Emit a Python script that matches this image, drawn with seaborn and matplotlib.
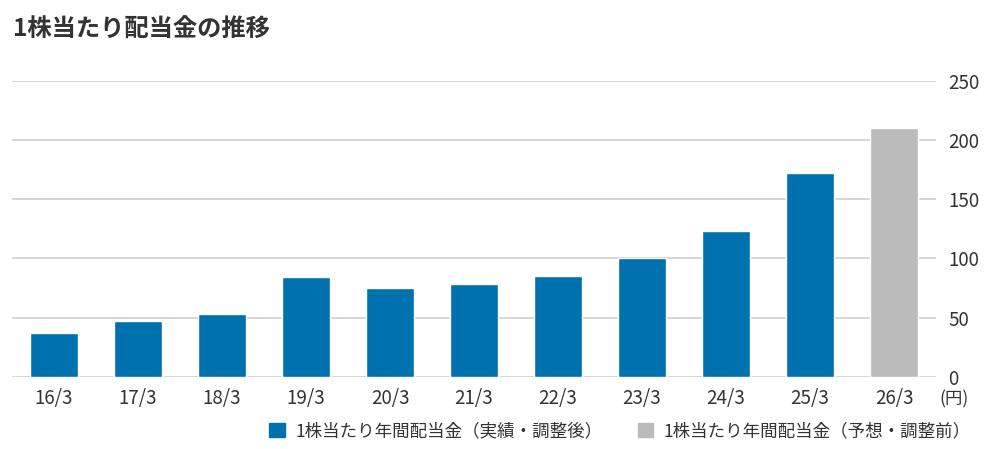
import matplotlib
matplotlib.use('Agg')
import matplotlib.pyplot as plt
import seaborn as sns
import pandas as pd

# dividend per share (yen)
years = ['16/3', '17/3', '18/3', '19/3', '20/3', '21/3', '22/3', '23/3', '24/3', '25/3', '26/3']
dividends = [37, 47, 53.5, 84, 75.5, 78.5, 85.5, 100.5, 123.5, 172.5, 210]
kind_actual = '1株当たり年間配当金（実績・調整後）'
kind_forecast = '1株当たり年間配当金（予想・調整前）'
kinds = [kind_actual] * 10 + [kind_forecast]
yticks = [0, 50, 100, 150, 200, 250]

df = pd.DataFrame({'year': years, 'dividend': dividends, 'kind': kinds})

sns.set_style('white')
plt.rcParams['font.family'] = ['Noto Sans CJK JP', 'DejaVu Sans']
text_color = '#333333'

fig = plt.figure(figsize=(9.95, 4.49), dpi=100)
ax = fig.add_axes([12 / 995, 1 - 377 / 449, (936 - 12) / 995, (377 - 80.7) / 449])

palette = {kind_actual: '#0071AF', kind_forecast: '#BBBBBB'}
sns.barplot(data=df, x='year', y='dividend', hue='kind', palette=palette,
            dodge=False, width=0.57, saturation=1, legend=False, ax=ax, zorder=3)

ax.set_xlim(-0.5, 10.5)
ax.set_ylim(0, 250)
ax.set_yticks(yticks)
ax.yaxis.tick_right()
ax.grid(axis='y', color='#D0D0D0', linewidth=1.2, zorder=0)
ax.set_axisbelow(True)
for s in ax.spines.values():
    s.set_visible(False)
ax.tick_params(axis='both', length=0, labelsize=13.5, colors=text_color)
ax.tick_params(axis='y', pad=9)
ax.tick_params(axis='x', pad=8)
ax.set_xlabel('')
ax.set_ylabel('')

fig.text(939 / 995, 1 - 399.5 / 449, '(円)', fontsize=12.5, color=text_color,
         ha='left', va='center')

fig.text(13 / 995, 1 - 30 / 449, '1株当たり配当金の推移', fontsize=17.5,
         fontweight='bold', color=text_color, ha='left', va='center')

handles = [plt.Rectangle((0, 0), 1, 1, color=palette[kind_actual]),
           plt.Rectangle((0, 0), 1, 1, color=palette[kind_forecast])]
fig.legend(handles, [kind_actual, kind_forecast], ncol=2, frameon=False,
           loc='center right', bbox_to_anchor=(978 / 995, 1 - 431 / 449),
           fontsize=12.6, labelcolor=text_color, handlelength=0.9, handleheight=0.9,
           handletextpad=0.6, columnspacing=2.0, borderaxespad=0)

fig.savefig('out.png', dpi=100)
